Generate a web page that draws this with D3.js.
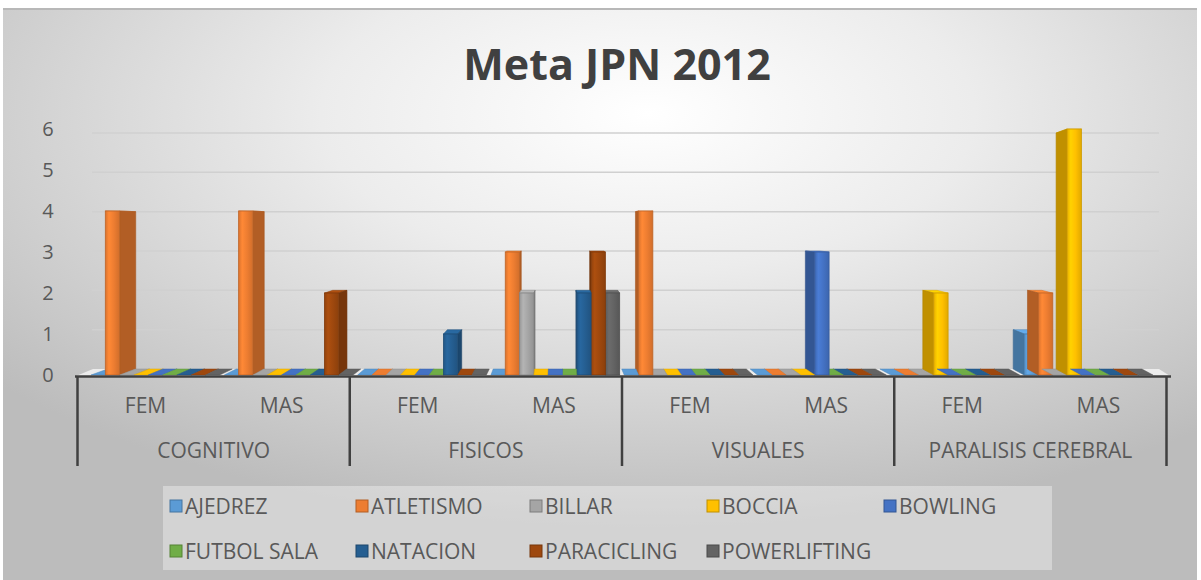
<!DOCTYPE html>
<html>
<head>
<meta charset="utf-8">
<script src="https://cdn.jsdelivr.net/npm/d3@7"></script>
<style>
  body { margin: 0; background: #fff; }
  svg { display: block; }
  text { font-family: "Open Sans", sans-serif; }
</style>
</head>
<body>
<svg width="1201" height="580"></svg>
<script>
// ---- data ----
const groups = ["COGNITIVO", "FISICOS", "VISUALES", "PARALISIS CEREBRAL"];
const genders = ["FEM", "MAS"];
const seriesNames = ["AJEDREZ", "ATLETISMO", "BILLAR", "BOCCIA", "BOWLING",
                     "FUTBOL SALA", "NATACION", "PARACICLING", "POWERLIFTING"];
// one value per group/gender: COG FEM, COG MAS, FIS FEM, FIS MAS, VIS FEM, VIS MAS, PAR FEM, PAR MAS
const ajedrez      = [0, 0, 0, 0, 0, 0, 0, 1];
const atletismo    = [4, 4, 0, 3, 4, 0, 0, 2];
const billar       = [0, 0, 0, 2, 0, 0, 0, 0];
const boccia       = [0, 0, 0, 0, 0, 0, 2, 6];
const bowling      = [0, 0, 0, 0, 0, 3, 0, 0];
const futbolSala   = [0, 0, 0, 0, 0, 0, 0, 0];
const natacion     = [0, 0, 1, 2, 0, 0, 0, 0];
const paracicling  = [0, 2, 0, 3, 0, 0, 0, 0];
const powerlifting = [0, 0, 0, 2, 0, 0, 0, 0];
const yTicks = [0, 1, 2, 3, 4, 5, 6];

const seriesValues = [ajedrez, atletismo, billar, boccia, bowling,
                      futbolSala, natacion, paracicling, powerlifting];
const colors = ["#5B9BD5", "#ED7D31", "#A5A5A5", "#FFC000", "#4472C4",
                "#70AD47", "#255E91", "#9E480E", "#636363"];

const svg = d3.select("svg");
const defs = svg.append("defs");

// background radial gradient (Excel style)
const bg = defs.append("radialGradient").attr("id", "bg")
    .attr("cx", "54%").attr("cy", "18%").attr("r", "72%");
bg.append("stop").attr("offset", "0%").attr("stop-color", "#ffffff");
bg.append("stop").attr("offset", "38%").attr("stop-color", "#ececec");
bg.append("stop").attr("offset", "85%").attr("stop-color", "#c8c8c8");
bg.append("stop").attr("offset", "100%").attr("stop-color", "#bcbcbc");

svg.append("rect").attr("x", 3).attr("y", 8).attr("width", 1194).attr("height", 4)
    .attr("fill", "#b8b8b8");
svg.append("rect").attr("x", 3).attr("y", 10).attr("width", 1194).attr("height", 575)
    .attr("fill", "url(#bg)");

// title
svg.append("text")
    .attr("x", 617).attr("y", 80)
    .attr("text-anchor", "middle")
    .attr("font-size", 43).attr("font-weight", 700)
    .attr("fill", "#404040")
    .text("Meta JPN 2012");

// ---- scales ----
const subKeys = groups.flatMap(g => genders.map(s => g + "|" + s));
const xGroup = d3.scaleBand().domain(groups).range([77.5, 1166.5]);
const xGender = d3.scaleBand().domain(genders).range([0, xGroup.bandwidth()]);
const xSub = d3.scaleBand().domain(subKeys).range([91, 1157.5]);
const xSeries = d3.scaleBand().domain(seriesNames)
    .range([0, xSub.bandwidth()]).paddingOuter(0.16).align(0);
const yFront = d3.scaleLinear().domain([0, 6]).range([375, 129]);
const yBack = d3.scaleLinear().domain([0, 6]).range([369, 133]);
const dxAt = x => Math.max(-11, Math.min(17, (560 - x) * 0.036));

// gridlines on back wall
svg.append("g").selectAll("line").data(yTicks.slice(1)).join("line")
    .attr("x1", 92).attr("x2", 1159)
    .attr("y1", d => yBack(d)).attr("y2", d => yBack(d))
    .attr("stroke", "#d0d0d0").attr("stroke-width", 1.5);

// y tick labels
svg.append("g").selectAll("text").data(yTicks).join("text")
    .attr("x", 48).attr("y", d => yFront(d) + 7)
    .attr("text-anchor", "middle")
    .attr("font-size", 20).attr("fill", "#595959")
    .text(d => d);

// floor
const fl = [[76, 376], [1170, 376], [1170 + dxAt(1170), 369], [76 + dxAt(76), 369]];
svg.append("polygon").attr("points", fl.map(p => p.join(",")).join(" "))
    .attr("fill", "#ececec");

// per-series gradients
colors.forEach((c, i) => {
    const col = d3.color(c);
    const lg = defs.append("linearGradient").attr("id", "fg" + i)
        .attr("x1", "0%").attr("x2", "100%").attr("y1", "0%").attr("y2", "0%");
    lg.append("stop").attr("offset", "0%").attr("stop-color", col.darker(0.25));
    lg.append("stop").attr("offset", "25%").attr("stop-color", col.brighter(0.25));
    lg.append("stop").attr("offset", "60%").attr("stop-color", col);
    lg.append("stop").attr("offset", "100%").attr("stop-color", col.darker(0.35));
});

// ---- bars ----
const bars = [];
subKeys.forEach((k, s) => {
    seriesNames.forEach((name, i) => {
        const x0 = xSub(k) + xSeries(name);
        const w = xSeries.bandwidth();
        const v = seriesValues[i][s];
        const dx = dxAt(x0 + w / 2);
        bars.push({ x0, w, v, dx, i });
    });
});
// far from the vanishing point first
bars.sort((a, b) => Math.abs(b.dx) - Math.abs(a.dx));

const pts = arr => arr.map(p => p.join(",")).join(" ");
const barG = svg.append("g");
bars.forEach(d => {
    const col = d3.color(colors[d.i]);
    const yf = yFront(d.v), yb = yBack(d.v);
    const g = barG.append("g");
    // top
    g.append("polygon")
        .attr("points", pts([[d.x0, yf], [d.x0 + d.w, yf], [d.x0 + d.w + d.dx, yb], [d.x0 + d.dx, yb]]))
        .attr("fill", d.v === 0 ? col : col.brighter(0.3))
        .attr("stroke", col.darker(0.4)).attr("stroke-width", 0.5);
    if (d.v > 0) {
        const xe = d.dx > 0 ? d.x0 + d.w : d.x0;
        g.append("polygon")
            .attr("points", pts([[xe, yf], [xe, 375], [xe + d.dx, 369], [xe + d.dx, yb]]))
            .attr("fill", col.darker(0.8))
            .attr("stroke", col.darker(1)).attr("stroke-width", 0.6);
        g.append("rect")
            .attr("x", d.x0).attr("y", yf)
            .attr("width", d.w).attr("height", 375 - yf)
            .attr("fill", `url(#fg${d.i})`)
            .attr("stroke", col.darker(0.6)).attr("stroke-width", 0.8);
    }
});

// ---- category axis ----
const axG = svg.append("g").attr("stroke", "#404040").attr("stroke-width", 2.5);
axG.append("line").attr("x1", 75).attr("x2", 1171).attr("y1", 376.5).attr("y2", 376.5);
const seps = groups.map(g => xGroup(g)).concat([xGroup.range()[1]]);
axG.selectAll("line.sep").data(seps).join("line").attr("class", "sep")
    .attr("x1", d => d).attr("x2", d => d)
    .attr("y1", 376).attr("y2", 466);

groups.forEach(g => {
    genders.forEach(s => {
        svg.append("text")
            .attr("x", xGroup(g) + xGender(s) + xGender.bandwidth() / 2)
            .attr("y", 413)
            .attr("text-anchor", "middle")
            .attr("font-size", 21).attr("fill", "#595959")
            .text(s);
    });
    svg.append("text")
        .attr("x", xGroup(g) + xGroup.bandwidth() / 2)
        .attr("y", 458)
        .attr("text-anchor", "middle")
        .attr("font-size", 21).attr("fill", "#595959")
        .text(g);
});

// ---- legend ----
svg.append("rect").attr("x", 163).attr("y", 486).attr("width", 889).attr("height", 84)
    .attr("fill", "#ffffff").attr("fill-opacity", 0.35);
const legCols = [170, 356, 530, 707, 884];
const legRows = [506, 551];
seriesNames.forEach((name, i) => {
    const cx = legCols[i % 5], cy = legRows[Math.floor(i / 5)];
    svg.append("rect")
        .attr("x", cx).attr("y", cy - 6).attr("width", 12).attr("height", 12)
        .attr("fill", colors[i])
        .attr("stroke", d3.color(colors[i]).darker(0.8)).attr("stroke-width", 1);
    svg.append("text")
        .attr("x", cx + 15).attr("y", cy + 7.5)
        .attr("font-size", 21).attr("fill", "#595959")
        .text(name);
});
</script>
</body>
</html>
